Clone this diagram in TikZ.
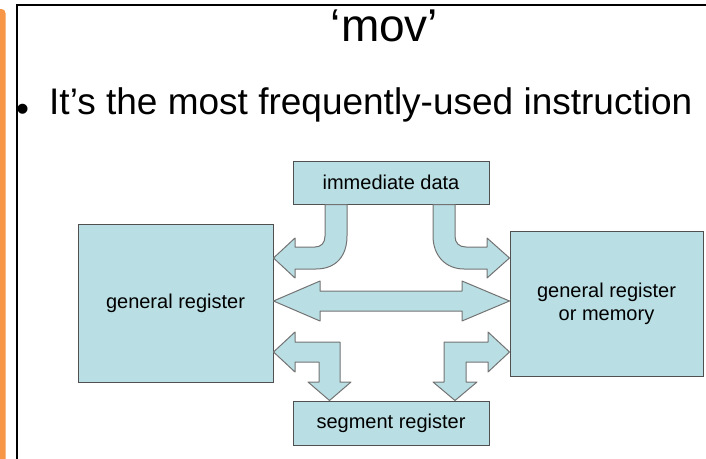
\documentclass[tikz,border=0pt]{standalone}
\usepackage{fontspec}
\setmainfont{Liberation Sans}
\definecolor{kasten}{RGB}{185,222,227}
\definecolor{rand}{RGB}{80,80,80}
\definecolor{pfeilrand}{RGB}{115,115,115}
\definecolor{balken}{RGB}{247,150,70}
\begin{document}
\begin{tikzpicture}[x=1pt,y=-1pt,
  kasten/.style={draw=rand,fill=kasten,line width=1pt,inner sep=0pt,
    font=\fontsize{20}{23}\selectfont,align=center},
  pfeil/.style={draw=pfeilrand,fill=kasten,line width=1pt,line join=round}]
\useasboundingbox (0,0) rectangle (706,458);
%Rand
  \fill[balken,rounded corners=4pt] (-10,9) rectangle (5.5,480);
  \draw[line width=2pt] (16.5,470) -- (16.5,5) -- (712,5);
%Text
  \node (titel) [anchor=base,inner sep=0pt,font=\fontsize{46}{50}\selectfont] at (384.5,41) {‘mov’};
  \node (punkt) [anchor=base,inner sep=0pt,font=\fontsize{37}{40}\selectfont] at (22.5,121) {•};
  \node (satz) [anchor=base west,inner sep=0pt,font=\fontsize{37}{40}\selectfont] at (49,114)
    {It’s the most frequently-used instruction};
%Kästen
  \node (imm) [kasten,minimum width=196pt,minimum height=43pt] at (391,182.5) {immediate data};
  \node (seg) [kasten,minimum width=196pt,minimum height=44pt] at (391,423) {segment register};
  \node (gr) [kasten,minimum width=195pt,minimum height=158pt] at (175.5,303) {general register};
  \node (grm) [kasten,minimum width=193pt,minimum height=145pt] at (606.5,303.5)
    {general register\\or memory};
%Pfeile
  \draw[pfeil] (gr.east |- 0,301) -- (320,281) -- (320,291) -- (462,291) -- (462,281)
    -- (grm.west |- 0,301) -- (462,321) -- (462,311) -- (320,311) -- (320,321) -- cycle;
  \draw[pfeil] (325,0 |- imm.south) -- (347,0 |- imm.south) -- (347,236)
    .. controls (347,256) and (336,269) .. (316,269) -- (295,269) -- (295,278)
    -- (gr.east |- 0,258) -- (295,238) -- (295,247) -- (315,247)
    .. controls (321,247) and (325,243) .. (325,236) -- cycle;
  \draw[pfeil] (433,0 |- imm.south) -- (455,0 |- imm.south) -- (455,236)
    .. controls (455,243) and (459,247) .. (466,247) -- (487,247) -- (487,238)
    -- (grm.west |- 0,258) -- (487,278) -- (487,269) -- (464,269)
    .. controls (446,269) and (433,256) .. (433,236) -- cycle;
  \draw[pfeil] (gr.east |- 0,352) -- (295,332) -- (295,342) -- (340,342) -- (340,382)
    -- (351,382) -- (329.5,0 |- seg.north) -- (308,382) -- (319,382) -- (319,362)
    -- (295,362) -- (295,372) -- cycle;
  \draw[pfeil] (grm.west |- 0,352) -- (488,332) -- (488,342) -- (444,342) -- (444,382)
    -- (433,382) -- (455,0 |- seg.north) -- (477,382) -- (466,382) -- (466,362)
    -- (488,362) -- (488,372) -- cycle;
\end{tikzpicture}
\end{document}
